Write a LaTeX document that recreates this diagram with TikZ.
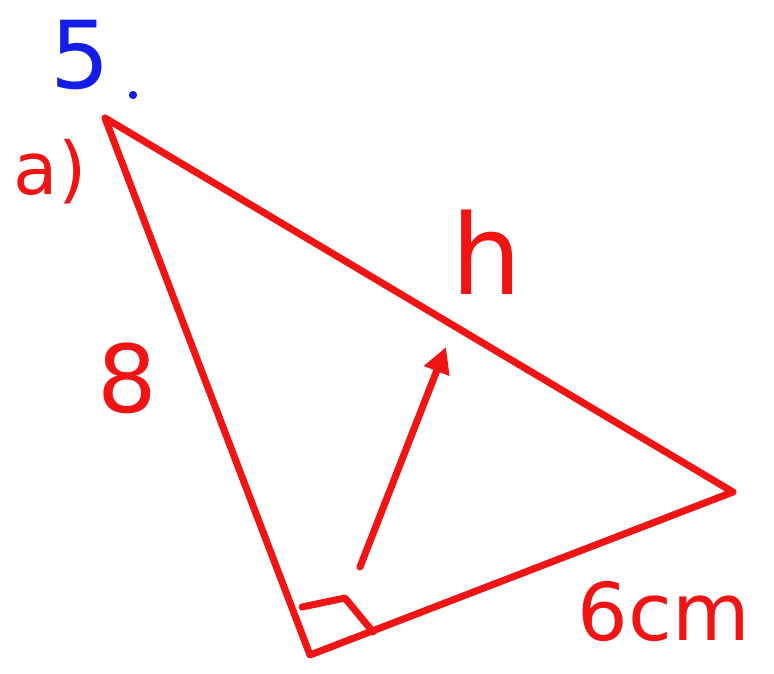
\documentclass[tikz,border=0pt]{standalone}
\usepackage{fontspec}
\setmainfont{DejaVu Sans}
\usetikzlibrary{arrows.meta}
\definecolor{penred}{RGB}{240,20,20}
\definecolor{penblue}{RGB}{20,30,230}
\begin{document}
\begin{tikzpicture}[x=0.03cm,y=-0.03cm,
  edge/.style={draw=penred,line width=6pt,line cap=round,line join=round},
  redlbl/.style={text=penred,inner sep=0pt},
  bluelbl/.style={text=penblue,inner sep=0pt}]
\useasboundingbox (0,0) rectangle (774,674);
\coordinate (A) at (105,118);
\coordinate (B) at (310,655);
\coordinate (C) at (733,492);
\draw[edge] (A) -- (B) -- (C) -- cycle;
\coordinate (r1) at (302,607);
\coordinate (r2) at (345,598);
\coordinate (r3) at (373,632);
\draw[edge] (r1) -- (r2) -- (r3);
\coordinate (s) at (360,567);
\coordinate (t) at (446,347);
\draw[edge,-{Triangle[length=22pt,width=22pt]}] (s) -- (t);
\node[bluelbl,font=\fontsize{80}{80}\selectfont] (n5) at (80,55) {5};
\node[circle,fill=penblue,inner sep=2.5pt] (dot) at (133,95) {};
\node[redlbl,font=\fontsize{62}{62}\selectfont] (na) at (50,172) {a)};
\node[redlbl,font=\fontsize{80}{80}\selectfont] (n8) at (127,378) {8};
\node[redlbl,font=\fontsize{95}{95}\selectfont] (nh) at (487,252) {h};
\node[redlbl,font=\fontsize{68}{68}\selectfont,text height=0.72em,text depth=0pt] (n6) at (664,636) {6cm};
\end{tikzpicture}
\end{document}
